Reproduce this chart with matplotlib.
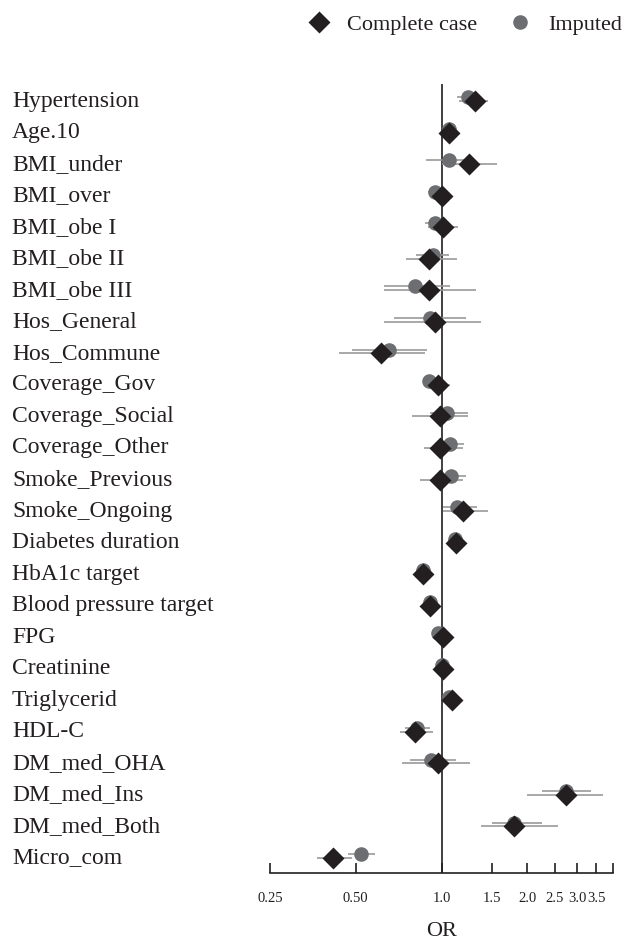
import matplotlib
matplotlib.use("Agg")
import matplotlib.pyplot as plt
import matplotlib.transforms as mtransforms
from matplotlib.lines import Line2D
import numpy as np

labels = ["Hypertension", "Age.10", "BMI_under", "BMI_over", "BMI_obe I", "BMI_obe II",
          "BMI_obe III", "Hos_General", "Hos_Commune", "Coverage_Gov", "Coverage_Social",
          "Coverage_Other", "Smoke_Previous", "Smoke_Ongoing", "Diabetes duration",
          "HbA1c target", "Blood pressure target", "FPG", "Creatinine", "Triglycerid",
          "HDL-C", "DM_med_OHA", "DM_med_Ins", "DM_med_Both", "Micro_com"]

cc_or = [1.31, 1.065, 1.25, 1.00, 1.01, 0.907, 0.905, 0.95, 0.612, 0.97, 0.99, 0.99, 0.99,
         1.187, 1.12, 0.858, 0.91, 1.01, 1.01, 1.088, 0.81, 0.97, 2.73, 1.80, 0.415]
cc_lo = [1.15, 1.04, 1.00, 0.93, 0.90, 0.75, 0.628, 0.628, 0.435, 0.90, 0.79, 0.87, 0.84,
         1.01, 1.09, 0.83, 0.88, 0.98, 0.99, 1.06, 0.714, 0.728, 2.00, 1.378, 0.367]
cc_hi = [1.46, 1.09, 1.57, 1.09, 1.14, 1.137, 1.32, 1.38, 0.875, 1.07, 1.236, 1.187, 1.187,
         1.46, 1.15, 0.89, 0.94, 1.04, 1.03, 1.11, 0.937, 1.264, 3.68, 2.56, 0.484]

im_or = [1.24, 1.06, 1.065, 0.945, 0.945, 0.93, 0.81, 0.91, 0.654, 0.905, 1.044, 1.07, 1.08,
         1.133, 1.118, 0.86, 0.91, 0.976, 1.00, 1.06, 0.818, 0.92, 2.73, 1.80, 0.522]
im_lo = [1.13, 1.04, 0.885, 0.90, 0.875, 0.815, 0.628, 0.68, 0.485, 0.86, 0.91, 0.97, 0.97,
         1.01, 1.09, 0.83, 0.88, 0.95, 0.98, 1.04, 0.744, 0.775, 2.25, 1.50, 0.468]
im_hi = [1.38, 1.08, 1.28, 1.00, 1.03, 1.065, 1.07, 1.216, 0.887, 0.96, 1.236, 1.196, 1.216,
         1.33, 1.15, 0.89, 0.94, 1.00, 1.02, 1.08, 0.91, 1.127, 3.36, 2.25, 0.582]

xticks = [0.25, 0.5, 1.0, 1.5, 2.0, 2.5, 3.0, 3.5, 4.0]
xticklabels = ["0.25", "0.50", "1.0", "1.5", "2.0", "2.5", "3.0", "3.5", ""]

SERIF = ["Liberation Serif", "DejaVu Serif"]
TXT = "#231f20"
DIA = "#231f20"
CIRC = "#6d6e71"
LINE = "#9a9a9a"

W, H = 627, 943
fig = plt.figure(figsize=(W / 100, H / 100), dpi=100)
left, right, top, bottom = 270, 613, 84, 873
ax = fig.add_axes([left / W, 1 - bottom / H, (right - left) / W, (bottom - top) / H])

n = len(labels)
y = np.arange(n)
off_im = -0.12
off_cc = 0.0

ax.set_xscale("log")
ax.set_xlim(0.25, 4.0)
ax.set_ylim(n - 1 + 0.476, -0.54)

ax.axvline(1.0, color=TXT, lw=1.2, zorder=1)

ax.hlines(y + off_im, im_lo, im_hi, color=LINE, lw=1.2, zorder=2)
ax.hlines(y + off_cc, cc_lo, cc_hi, color=LINE, lw=1.2, zorder=2)
ax.plot(im_or, y + off_im, "o", ms=10.5, color=CIRC, mec="none", zorder=3)
ax.plot(cc_or, y + off_cc, "D", ms=11.5, color=DIA, mec="none", zorder=4)

for s in ["top", "left", "right"]:
    ax.spines[s].set_visible(False)
ax.spines["bottom"].set_color(TXT)
ax.spines["bottom"].set_linewidth(1.2)
ax.set_yticks([])
ax.set_xticks(xticks)
ax.set_xticklabels(xticklabels, fontfamily=SERIF, fontsize=10.5, color=TXT)
ax.xaxis.set_minor_locator(matplotlib.ticker.NullLocator())
ax.tick_params(axis="x", direction="in", length=7, width=1.2, color=TXT, pad=14)
ax.set_xlabel("OR", fontfamily=SERIF, fontsize=16, color=TXT, labelpad=12)

trans = mtransforms.blended_transform_factory(fig.transFigure, ax.transData)
for i, lab in enumerate(labels):
    ax.text(12 / W, i, lab, transform=trans, ha="left", va="center",
            fontfamily=SERIF, fontsize=17, color=TXT, clip_on=False)

handles = [Line2D([], [], marker="D", ls="none", ms=11.5, color=DIA, mec="none"),
           Line2D([], [], marker="o", ls="none", ms=10.5, color=CIRC, mec="none")]
fig.legend(handles, ["Complete case", "Imputed"], loc="center right",
           bbox_to_anchor=(1.0, 1 - 25 / H), ncol=2, frameon=False,
           prop={"family": SERIF, "size": 16}, handlelength=1.0,
           handletextpad=0.77, columnspacing=1.45, labelcolor=TXT,
           borderaxespad=0.0, borderpad=0.2)

fig.savefig("out.png", dpi=100)
